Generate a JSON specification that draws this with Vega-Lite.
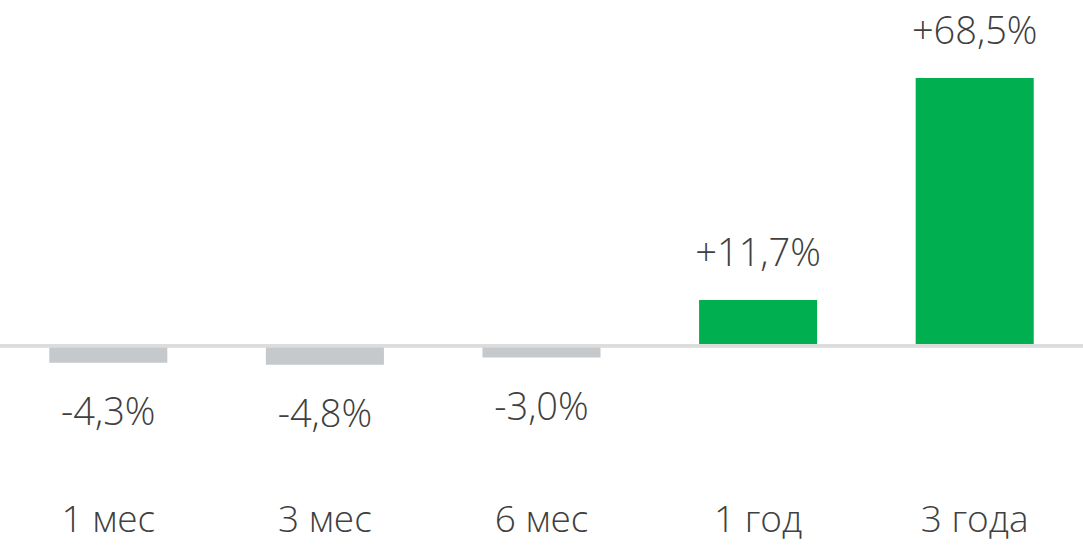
{
  "$schema": "https://vega.github.io/schema/vega-lite/v6.json",
  "width": 1083,
  "height": 480,
  "autosize": {"type": "none"},
  "padding": {"left": 0, "right": 0, "top": 0, "bottom": 70},
  "background": "white",
  "config": {"view": {"stroke": null}},
  "data": {
    "values": [
      {"period": "1 мес", "value": -4.3, "label": "-4,3%"},
      {"period": "3 мес", "value": -4.8, "label": "-4,8%"},
      {"period": "6 мес", "value": -3.0, "label": "-3,0%"},
      {"period": "1 год", "value": 11.7, "label": "+11,7%"},
      {"period": "3 года", "value": 68.5, "label": "+68,5%"}
    ]
  },
  "encoding": {
    "x": {
      "field": "period",
      "type": "nominal",
      "sort": null,
      "scale": {"paddingInner": 0.455, "paddingOuter": 0.2275},
      "axis": {
        "title": null,
        "domain": false,
        "ticks": false,
        "labelAngle": 0,
        "labelFont": "Open Sans",
        "labelFontWeight": 300,
        "labelFontSize": 37,
        "labelColor": "#404040",
        "labelPadding": 22
      }
    },
    "y": {
      "field": "value",
      "type": "quantitative",
      "scale": {"domain": [-34.3, 88.44], "nice": false, "zero": false},
      "axis": null
    }
  },
  "layer": [
    {
      "mark": {"type": "bar"},
      "encoding": {
        "y2": {"datum": 0},
        "color": {
          "condition": {"test": "datum.value > 0", "value": "#00b050"},
          "value": "#c5c9cc"
        }
      }
    },
    {
      "mark": {"type": "rule", "color": "#dcdcdc", "strokeWidth": 3},
      "encoding": {"y": {"datum": 0}, "x": null}
    },
    {
      "transform": [{"filter": "datum.value > 0"}],
      "mark": {"type": "text", "baseline": "alphabetic", "dy": -34, "font": "Open Sans", "fontWeight": 300, "fontSize": 38, "color": "#404040"},
      "encoding": {"text": {"field": "label"}}
    },
    {
      "transform": [{"filter": "datum.value < 0"}],
      "mark": {"type": "text", "baseline": "top", "dy": 32, "font": "Open Sans", "fontWeight": 300, "fontSize": 38, "color": "#404040"},
      "encoding": {"text": {"field": "label"}}
    }
  ]
}
